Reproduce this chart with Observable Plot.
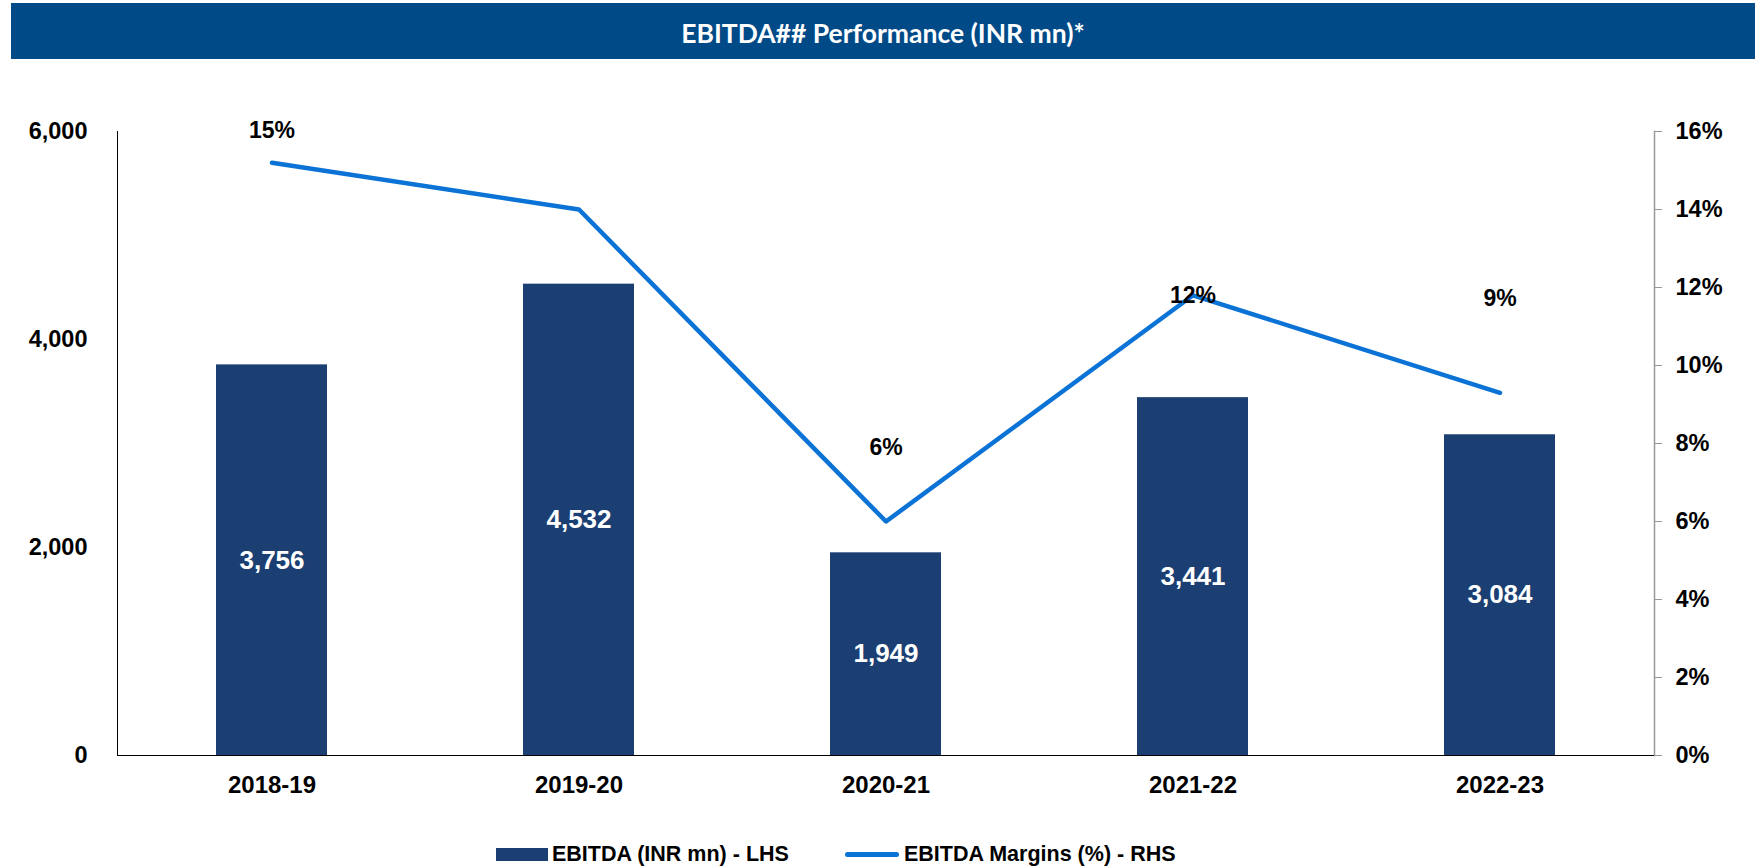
<!DOCTYPE html>
<html><head><meta charset="utf-8">
<script src="https://cdn.jsdelivr.net/npm/d3@7"></script>
<script src="https://cdn.jsdelivr.net/npm/@observablehq/plot@0.6"></script>
<style>
body{margin:0;background:#fff;width:1755px;height:867px;overflow:hidden;font-family:"Liberation Sans",Arial,sans-serif;}
#title{margin:3px 0 0 11px;width:1744px;height:56px;box-sizing:border-box;padding-top:4px;background:#004A88;color:#fff;font-family:Lato,sans-serif;font-weight:700;font-size:26.5px;display:flex;align-items:center;justify-content:center;}
#chart svg{display:block;}
#legend{position:relative;height:47px;font-weight:bold;font-size:21.5px;color:#000;}
.item{position:absolute;top:22px;display:flex;align-items:center;}
.sw-bar{width:52px;height:13px;background:#1B3F72;margin-right:4px;}
.sw-line{width:54px;height:5px;border-radius:3px;background:#0B72D6;margin-right:5px;}
</style></head>
<body>
<div id="title">EBITDA## Performance (INR mn)*</div>
<div id="chart"></div>
<div id="legend">
  <div class="item" style="left:496px"><div class="sw-bar"></div><span>EBITDA (INR mn) - LHS</span></div>
  <div class="item" style="left:845px"><div class="sw-line"></div><span>EBITDA Margins (%) - RHS</span></div>
</div>
<script>
const years = ["2018-19", "2019-20", "2020-21", "2021-22", "2022-23"];
const ebitda = [3756, 4532, 1949, 3441, 3084];
const margins = [15.2, 14.0, 6.0, 11.8, 9.3];
const marginLabels = ["15%", "", "6%", "12%", "9%"];
const leftTicks = [0, 2000, 4000, 6000];
const rightTicks = [0, 2, 4, 6, 8, 10, 12, 14, 16];

const yMax = 6000, pMax = 16, k = yMax / pMax;
const data = years.map((y, i) => ({year: y, ebitda: ebitda[i], margin: margins[i], label: marginLabels[i]}));
const labelDy = [-32, 0, -74, 0, -94];

const font = "Liberation Sans, Arial, sans-serif";
const labelMarks = data.map((d, i) => d.label ? Plot.text([d], {
  x: "year", y: d => d.margin * k, text: "label", dy: labelDy[i],
  fontSize: 23, fontWeight: "bold", fill: "#000", fontFamily: font
}) : null).filter(Boolean);

const chart = Plot.plot({
  width: 1755, height: 761,
  marginTop: 72, marginBottom: 65, marginLeft: 117, marginRight: 101,
  style: {fontFamily: font, background: "transparent"},
  x: {type: "band", domain: years, paddingInner: 0.64, paddingOuter: 0.32, axis: null},
  y: {domain: [0, yMax], axis: null},
  marks: [
    Plot.barY(data, {x: "year", y: "ebitda", fill: "#1B3F72"}),
    Plot.text(data, {x: "year", y: d => d.ebitda / 2, text: d => d3.format(",")(d.ebitda),
      fill: "#fff", fontSize: 26, fontWeight: "bold"}),
    Plot.line(data, {x: "year", y: d => d.margin * k, stroke: "#0B72D6", strokeWidth: 4.5,
      strokeLinecap: "round", strokeLinejoin: "round"}),
    ...labelMarks,
    Plot.axisY({ticks: leftTicks, tickFormat: d3.format(","), tickSize: 0, tickPadding: 30,
      fontSize: 23.5, fontWeight: "bold", fill: "#000", label: null}),
    Plot.axisY({anchor: "right", ticks: rightTicks.map(p => p * k), tickFormat: d => d / k + "%",
      tickSize: 7, tickPadding: 14, stroke: "#999", fontSize: 23.5, fontWeight: "bold", fill: "#000", label: null}),
    Plot.axisX({tickSize: 0, tickPadding: 20, fontSize: 24, fontWeight: "bold", fill: "#000", label: null}),
    Plot.frame({anchor: "left", stroke: "#000", strokeWidth: 1}),
    Plot.frame({anchor: "right", stroke: "#999", strokeWidth: 1.5}),
    Plot.ruleY([0], {stroke: "#000", strokeWidth: 1})
  ]
});
document.getElementById("chart").appendChild(chart);
</script>
</body></html>
